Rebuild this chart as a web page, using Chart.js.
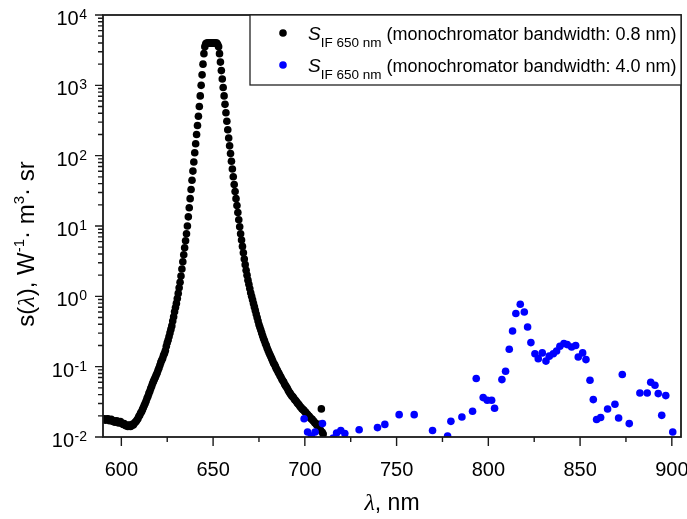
<!DOCTYPE html>
<html lang="en">
<head>
<meta charset="utf-8">
<title>s(λ) – IF 650 nm</title>
<script src="https://cdn.jsdelivr.net/npm/chart.js@4.4.1/dist/chart.umd.min.js"></script>
<style>
    html, body { margin: 0; padding: 0; background: #fff; }
    #grafico { display: block; }
</style>
</head>
<body>
<canvas id="grafico" width="687" height="519"></canvas>
<script>
// Dados (comprimento de onda em nm, s(λ) em W-1·m3·sr)

// Série preta: largura de banda do monocromador 0.8 nm
const blackWavelengths = [
    590, 590.5, 591, 591.5, 592, 592.5, 593, 593.5, 594, 594.5,
    595, 595.5, 596, 596.5, 597, 597.5, 598, 598.5, 599, 599.5,
    600, 600.5, 601, 601.5, 602, 602.5, 603, 603.5, 604, 604.5,
    605, 605.5, 606, 606.5, 607, 607.5, 608, 608.5, 609, 609.5,
    610, 610.5, 611, 611.5, 612, 612.5, 613, 613.5, 614, 614.5,
    615, 615.5, 616, 616.5, 617, 617.5, 618, 618.5, 619, 619.5,
    620, 620.5, 621, 621.5, 622, 622.5, 623, 623.5, 624, 624.5,
    625, 625.5, 626, 626.5, 627, 627.5, 628, 628.5, 629, 629.5,
    630, 630.5, 631, 631.5, 632, 632.5, 633, 633.5, 634, 634.5,
    635, 635.5, 636, 636.5, 637, 637.5, 638, 638.5, 639, 639.5,
    640, 640.5, 641, 641.5, 642, 642.5, 643, 643.5, 644, 644.5,
    645, 645.5, 646, 646.5, 647, 647.5, 648, 648.5, 649, 649.5,
    650, 650.5, 651, 651.5, 652, 652.5, 653, 653.5, 654, 654.5,
    655, 655.5, 656, 656.5, 657, 657.5, 658, 658.5, 659, 659.5,
    660, 660.5, 661, 661.5, 662, 662.5, 663, 663.5, 664, 664.5,
    665, 665.5, 666, 666.5, 667, 667.5, 668, 668.5, 669, 669.5,
    670, 670.5, 671, 671.5, 672, 672.5, 673, 673.5, 674, 674.5,
    675, 675.5, 676, 676.5, 677, 677.5, 678, 678.5, 679, 679.5,
    680, 680.5, 681, 681.5, 682, 682.5, 683, 683.5, 684, 684.5,
    685, 685.5, 686, 686.5, 687, 687.5, 688, 688.5, 689, 689.5,
    690, 690.5, 691, 691.5, 692, 692.5, 693, 693.5, 694, 694.5,
    695, 695.5, 696, 696.5, 697, 697.5, 698, 698.5, 699, 699.5,
    700, 700.5, 701, 701.5, 702, 702.5, 703, 703.5, 704, 704.5,
    705, 705.5, 706, 706.5, 707, 707.5, 708, 708.5, 709, 709.5,
    710
];
const blackValues = [
    0.0178, 0.0182, 0.0178, 0.0174, 0.0178, 0.0182, 0.0178, 0.0170, 0.0174, 0.0178,
    0.0170, 0.0166, 0.0170, 0.0162, 0.0166, 0.0170, 0.0162, 0.0158, 0.0162, 0.0166,
    0.0158, 0.0155, 0.0151, 0.0155, 0.0148, 0.0145, 0.0148, 0.0141, 0.0145, 0.0148,
    0.0141, 0.0145, 0.0151, 0.0148, 0.0155, 0.0162, 0.0166, 0.0174, 0.0182, 0.0195,
    0.0204, 0.0219, 0.0229, 0.0245, 0.0263, 0.0282, 0.0302, 0.0324, 0.0355, 0.0380,
    0.0417, 0.0447, 0.0490, 0.0525, 0.0575, 0.0617, 0.0661, 0.0708, 0.0759, 0.0813,
    0.0891, 0.0955, 0.105, 0.115, 0.123, 0.132, 0.145, 0.155, 0.170, 0.195,
    0.219, 0.240, 0.269, 0.302, 0.339, 0.380, 0.447, 0.513, 0.603, 0.692,
    0.794, 0.933, 1.10, 1.32, 1.58, 1.95, 2.45, 3.09, 3.89, 4.90,
    6.17, 7.76, 10.0, 13.5, 18.2, 24.5, 33.1, 44.7, 60.3, 81.3,
    110, 148, 200, 269, 363, 501, 708, 1000, 1410, 2000,
    2820, 3550, 3890, 3980, 3980, 3980, 3980, 3980, 3980, 3980,
    3980, 3980, 3980, 3980, 3980, 3800, 3550, 2820, 2140, 1620,
    1230, 933, 708, 537, 407, 309, 234, 178, 138, 107,
    83.2, 64.6, 50.1, 38.9, 30.9, 24.5, 19.5, 15.5, 12.3, 9.77,
    7.76, 6.31, 5.13, 4.17, 3.39, 2.82, 2.34, 2.00, 1.70, 1.48,
    1.29, 1.12, 1.00, 0.891, 0.794, 0.708, 0.631, 0.562, 0.501, 0.447,
    0.398, 0.363, 0.331, 0.302, 0.275, 0.251, 0.234, 0.214, 0.200, 0.182,
    0.170, 0.158, 0.148, 0.138, 0.129, 0.120, 0.112, 0.107, 0.100, 0.0933,
    0.0891, 0.0832, 0.0794, 0.0741, 0.0708, 0.0661, 0.0631, 0.0603, 0.0562, 0.0537,
    0.0513, 0.0490, 0.0457, 0.0437, 0.0417, 0.0398, 0.0380, 0.0372, 0.0355, 0.0339,
    0.0331, 0.0316, 0.0302, 0.0295, 0.0282, 0.0269, 0.0263, 0.0251, 0.0245, 0.0240,
    0.0229, 0.0224, 0.0214, 0.0209, 0.0200, 0.0195, 0.0186, 0.0182, 0.0178, 0.0170,
    0.0166, 0.0158, 0.0155, 0.0148, 0.0145, 0.0138, 0.0151, 0.0126, 0.0251, 0.0117,
    0.0110
];

// Série azul: largura de banda do monocromador 4.0 nm
const blueWavelengths = [
    699.6, 701.5, 703.6, 705.6, 709.6, 715.5, 717.3, 719.6, 721.8, 729.6,
    739.6, 743.6, 751.4, 759.6, 769.6, 777.8, 779.6, 785.6, 791.4, 793.4,
    797.2, 799.4, 801.8, 803.4, 807.4, 809.4, 811.4, 813.2, 815.0, 817.4,
    819.6, 821.4, 823.2, 825.4, 827.2, 829.4, 831.4, 833.2, 835.4, 837.2,
    839.0, 841.2, 843.0, 845.4, 847.6, 849.0, 851.4, 853.2, 855.4, 857.2,
    859.0, 861.2, 865.0, 869.0, 871.0, 873.0, 876.8, 882.6, 886.6, 888.5,
    890.8, 892.6, 894.5, 896.7, 900.5
];
const blueValues = [
    0.0182, 0.0118, 0.0103, 0.0118, 0.0155, 0.0097, 0.0114, 0.0124, 0.0112, 0.0127,
    0.0136, 0.0151, 0.0208, 0.0208, 0.0124, 0.0103, 0.0167, 0.0192, 0.0232, 0.0680,
    0.0363, 0.0333, 0.0333, 0.0256, 0.0655, 0.0859, 0.177, 0.322, 0.569, 0.772,
    0.600, 0.367, 0.220, 0.153, 0.130, 0.157, 0.120, 0.141, 0.153, 0.167,
    0.195, 0.213, 0.206, 0.190, 0.200, 0.137, 0.157, 0.126, 0.064, 0.034,
    0.0177, 0.0189, 0.0250, 0.0292, 0.0186, 0.0773, 0.0155, 0.0423, 0.0423, 0.0600,
    0.0543, 0.0414, 0.0203, 0.0388, 0.0118
];

// Marcas dos eixos
const xMajorTicks = [600, 650, 700, 750, 800, 850, 900];
const xMinorTicks = [625, 675, 725, 775, 825, 875];
const yMajorTicks = [0.01, 0.1, 1, 10, 100, 1000, 10000];
const yTickExponents = ['-2', '-1', '0', '1', '2', '3', '4'];
const yMinorMultipliers = [2, 3, 4, 5, 6, 7, 8, 9];

// Textos
const legendSymbol = 'S';
const legendSubscript = 'IF 650 nm';
const legendTexts = [
    '(monochromator bandwidth: 0.8 nm)',
    '(monochromator bandwidth: 4.0 nm)'
];
const seriesColors = ['#000000', '#0000ff'];

const FONTE = '"Liberation Sans", Arial, Helvetica, sans-serif';
const FONTE_LAMBDA = '"Liberation Serif", "DejaVu Serif", serif';

// Desenha texto em segmentos (sobrescritos / itálico) a partir de x, retorna largura
function desenharSegmentos(ctx, segmentos, x, baseline, medirApenas) {
    let pos = x;
    segmentos.forEach(seg => {
        ctx.font = seg.font;
        if (!medirApenas) {
            ctx.fillText(seg.t, pos, baseline + (seg.dy || 0));
        }
        pos += ctx.measureText(seg.t).width;
    });
    return pos - x;
}

// Plugin para moldura, marcas, rótulos e legenda
const eixosPlugin = {
    id: 'eixosPlugin',
    afterDatasetsDraw(chart) {
        const { ctx, chartArea: area, scales } = chart;
        const x = scales.x;
        const y = scales.y;

        ctx.save();
        ctx.fillStyle = '#000';
        ctx.strokeStyle = '#1a1a1a';

        // Marcas do eixo x
        ctx.lineWidth = 1.4;
        ctx.beginPath();
        xMajorTicks.forEach(v => {
            const px = x.getPixelForValue(v);
            ctx.moveTo(px, area.bottom);
            ctx.lineTo(px, area.bottom + 9);
        });
        xMinorTicks.forEach(v => {
            const px = x.getPixelForValue(v);
            ctx.moveTo(px, area.bottom);
            ctx.lineTo(px, area.bottom + 5);
        });

        // Marcas do eixo y (log)
        yMajorTicks.forEach((v, i) => {
            const py = y.getPixelForValue(v);
            ctx.moveTo(area.left, py);
            ctx.lineTo(area.left - 8, py);
            if (i < yMajorTicks.length - 1) {
                yMinorMultipliers.forEach(m => {
                    const pm = y.getPixelForValue(v * m);
                    ctx.moveTo(area.left, pm);
                    ctx.lineTo(area.left - 5, pm);
                });
            }
        });
        ctx.stroke();

        // Moldura
        ctx.lineWidth = 1.8;
        ctx.strokeRect(area.left, area.top, area.right - area.left, area.bottom - area.top);

        // Rótulos do eixo x
        ctx.font = '20px ' + FONTE;
        ctx.textAlign = 'center';
        ctx.textBaseline = 'alphabetic';
        xMajorTicks.forEach(v => {
            ctx.fillText(String(v), x.getPixelForValue(v), area.bottom + 39);
        });

        // Rótulos do eixo y: 10 com expoente
        const bordaDireita = area.left - 16;
        ctx.textAlign = 'left';
        yMajorTicks.forEach((v, i) => {
            const py = y.getPixelForValue(v);
            const exp = yTickExponents[i];
            ctx.font = '14px ' + FONTE;
            const wExp = ctx.measureText(exp).width;
            ctx.fillText(exp, bordaDireita - wExp, py + 4);
            ctx.font = '20px ' + FONTE;
            const w10 = ctx.measureText('10').width;
            ctx.fillText('10', bordaDireita - wExp - w10 - 0.5, py + 10);
        });

        // Título do eixo x: λ, nm
        const tituloX = [
            { t: 'λ', font: 'italic 24px ' + FONTE_LAMBDA },
            { t: ', nm', font: '23px ' + FONTE }
        ];
        const wTx = desenharSegmentos(ctx, tituloX, 0, 0, true);
        desenharSegmentos(ctx, tituloX, (area.left + area.right) / 2 - wTx / 2, area.bottom + 73, false);

        // Título do eixo y: s(λ), W-1·m3·sr
        const tituloY = [
            { t: 's(', font: '24px ' + FONTE },
            { t: 'λ', font: 'italic 24px ' + FONTE_LAMBDA },
            { t: '), W', font: '24px ' + FONTE },
            { t: '-1', font: '15px ' + FONTE, dy: -10 },
            { t: '· m', font: '24px ' + FONTE },
            { t: '3', font: '15px ' + FONTE, dy: -10 },
            { t: '· sr', font: '24px ' + FONTE }
        ];
        const wTy = desenharSegmentos(ctx, tituloY, 0, 0, true);
        ctx.save();
        ctx.translate(34, 244);
        ctx.rotate(-Math.PI / 2);
        desenharSegmentos(ctx, tituloY, -wTy / 2, 0, false);
        ctx.restore();

        // Legenda
        const legLeft = 250;
        const legTop = area.top;
        const legBottom = 85;
        ctx.fillStyle = '#fff';
        ctx.fillRect(legLeft, legTop, area.right - legLeft, legBottom - legTop);
        ctx.strokeStyle = '#222';
        ctx.lineWidth = 1.3;
        ctx.strokeRect(legLeft, legTop, area.right - legLeft, legBottom - legTop);

        legendTexts.forEach((texto, i) => {
            const baseline = legTop + 25 + i * 32;
            ctx.fillStyle = seriesColors[i];
            ctx.beginPath();
            ctx.arc(283, baseline - 7, 3.8, 0, Math.PI * 2);
            ctx.fill();

            ctx.fillStyle = '#000';
            desenharSegmentos(ctx, [
                { t: legendSymbol, font: 'italic 19px ' + FONTE },
                { t: legendSubscript, font: '13.5px ' + FONTE, dy: 7 },
                { t: ' ' + texto, font: '18px ' + FONTE }
            ], 308, baseline, false);
        });

        ctx.restore();
    }
};

// Criação do gráfico
function criarGrafico() {
    const canvas = document.getElementById('grafico');
    if (!canvas) {
        console.error('Canvas grafico não encontrado');
        return;
    }

    const pontosPretos = blackWavelengths.map((w, i) => ({ x: w, y: blackValues[i] }));
    const pontosAzuis = blueWavelengths.map((w, i) => ({ x: w, y: blueValues[i] }));

    new Chart(canvas, {
        type: 'scatter',
        data: {
            datasets: [
                {
                    label: 'S IF 650 nm (monochromator bandwidth: 0.8 nm)',
                    data: pontosPretos,
                    backgroundColor: seriesColors[0],
                    borderColor: seriesColors[0],
                    pointRadius: 3.8,
                    pointBorderWidth: 0,
                    order: 2
                },
                {
                    label: 'S IF 650 nm (monochromator bandwidth: 4.0 nm)',
                    data: pontosAzuis,
                    backgroundColor: seriesColors[1],
                    borderColor: seriesColors[1],
                    pointRadius: 3.8,
                    pointBorderWidth: 0,
                    order: 1
                }
            ]
        },
        options: {
            responsive: false,
            animation: false,
            devicePixelRatio: 1,
            layout: {
                padding: { top: 15, right: 6, left: 0, bottom: 0 }
            },
            plugins: {
                legend: { display: false },
                tooltip: { enabled: false }
            },
            scales: {
                x: {
                    type: 'linear',
                    min: 590,
                    max: 905,
                    grid: { display: false },
                    border: { display: false },
                    ticks: { display: false },
                    afterFit: scale => { scale.height = 82; }
                },
                y: {
                    type: 'logarithmic',
                    min: 0.01,
                    max: 10000,
                    grid: { display: false },
                    border: { display: false },
                    ticks: { display: false },
                    afterFit: scale => { scale.width = 103; }
                }
            }
        },
        plugins: [eixosPlugin]
    });

    console.log('Gráfico criado');
}

document.addEventListener('DOMContentLoaded', criarGrafico);
</script>
</body>
</html>
